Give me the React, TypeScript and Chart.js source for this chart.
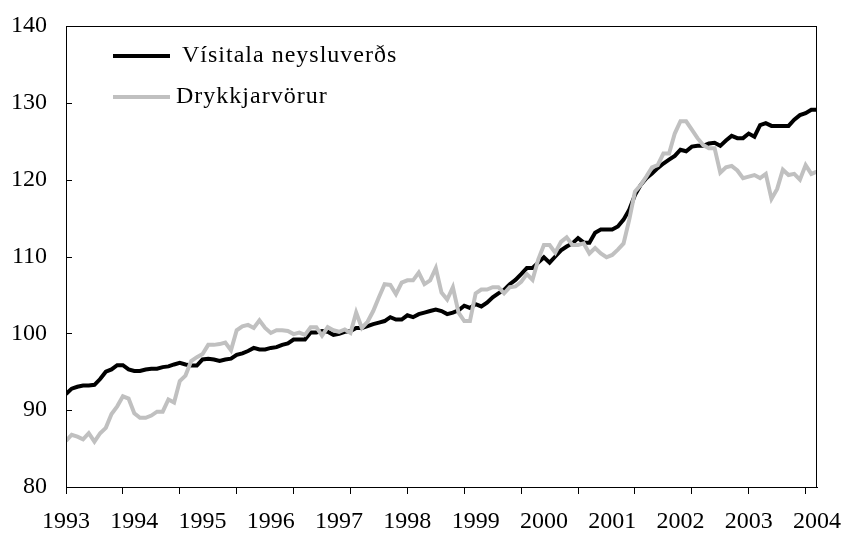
import React, { useEffect, useRef } from "react";
import { Chart, registerables } from "chart.js";

Chart.register(...registerables);

const yearLabels = ["1993", "1994", "1995", "1996", "1997", "1998", "1999", "2000", "2001", "2002", "2003", "2004"];
const seriesNames = ["Vísitala neysluverðs", "Drykkjarvörur"];

// monthly values, Jan 1993 .. Jan 2004
const cpi = [
  92.1, 92.8, 93.05, 93.2, 93.2, 93.3, 94.05, 95.0, 95.3, 95.85, 95.85, 95.3,
  95.1, 95.1, 95.3, 95.4, 95.4, 95.6, 95.7, 95.95, 96.15, 95.95, 95.8, 95.8,
  96.6, 96.7, 96.6, 96.4, 96.6, 96.7, 97.2, 97.4, 97.7, 98.1, 97.9, 97.9,
  98.1, 98.2, 98.5, 98.7, 99.2, 99.2, 99.2, 100.1, 100.1, 100.3, 100.2, 99.8,
  99.95, 100.2, 100.3, 100.7, 100.7, 100.95, 101.2, 101.4, 101.6, 102.1, 101.8, 101.8,
  102.35, 102.1, 102.5, 102.7, 102.9, 103.1, 102.9, 102.5, 102.7, 103.0, 103.6, 103.3,
  103.8, 103.5, 104.0, 104.7, 105.2, 105.65, 106.4, 106.95, 107.7, 108.5, 108.5, 109.2,
  109.9, 109.2, 110.0, 110.8, 111.3, 111.7, 112.4, 111.8, 111.8, 113.1, 113.5, 113.5,
  113.5, 113.9, 114.8, 116.1, 118.0, 119.3, 120.2, 120.8, 121.5, 122.1, 122.6, 123.1,
  123.9, 123.7, 124.3, 124.4, 124.4, 124.7, 124.8, 124.4, 125.1, 125.7, 125.4, 125.4,
  126.0, 125.6, 127.1, 127.35, 127.0, 127.0, 127.0, 127.0, 127.8, 128.4, 128.65, 129.1,
  129.1,
];

const drinks = [
  86.0, 86.8, 86.55, 86.2, 87.0, 85.9, 87.0, 87.7, 89.5, 90.5, 91.8, 91.5,
  89.6, 89.0, 89.0, 89.3, 89.8, 89.8, 91.4, 91.0, 93.8, 94.5, 96.4, 96.9,
  97.3, 98.5, 98.5, 98.6, 98.8, 97.8, 100.4, 100.9, 101.1, 100.7, 101.7, 100.7,
  100.05, 100.4, 100.4, 100.3, 99.9, 100.1, 99.8, 100.8, 100.8, 99.7, 100.8, 100.4,
  100.2, 100.5, 100.05, 102.7, 100.7, 101.5, 102.9, 104.7, 106.4, 106.3, 105.1, 106.6,
  106.9, 106.9, 107.9, 106.4, 106.9, 108.5, 105.3, 104.4, 106.0, 102.7, 101.6, 101.6,
  105.2, 105.7, 105.7, 106.0, 106.0, 105.2, 106.0, 106.1, 106.7, 107.7, 106.95, 109.6,
  111.5, 111.5, 110.5, 111.9, 112.5, 111.5, 111.5, 111.7, 110.4, 111.1, 110.4, 109.9,
  110.2, 110.9, 111.7, 114.8, 118.45, 119.3, 120.4, 121.6, 121.9, 123.4, 123.4, 126.0,
  127.6, 127.6, 126.5, 125.4, 124.5, 124.1, 124.1, 120.9, 121.6, 121.8, 121.2, 120.2,
  120.4, 120.6, 120.2, 120.75, 117.5, 118.8, 121.3, 120.6, 120.75, 120.0, 121.9, 120.75,
  121.05,
];

const FONT = '"Liberation Serif"';

const framePlugin = {
  id: "frame",
  afterDraw(chart: any) {
    const { ctx, chartArea: a, scales } = chart;
    ctx.save();
    ctx.strokeStyle = "#000";
    ctx.lineWidth = 1;
    ctx.strokeRect(a.left + 0.5, a.top + 0.5, a.right - a.left - 1, a.bottom - a.top);
    const y = scales.y;
    ctx.beginPath();
    for (const t of y.ticks) {
      const py = Math.round(y.getPixelForValue(t.value)) + 0.5;
      ctx.moveTo(a.left, py);
      ctx.lineTo(a.left + 6, py);
    }
    ctx.stroke();
    ctx.restore();
  },
};

const legendPlugin = {
  id: "insideLegend",
  afterDraw(chart: any) {
    const { ctx, chartArea: a } = chart;
    const rows = [
      { dy: 30, tx: 116 },
      { dy: 71, tx: 110 },
    ];
    ctx.save();
    chart.data.datasets.forEach((ds: any, i: number) => {
      const r = rows[i];
      const yy = a.top + r.dy;
      ctx.strokeStyle = ds.borderColor;
      ctx.lineWidth = 4;
      ctx.beginPath();
      ctx.moveTo(a.left + 47, yy);
      ctx.lineTo(a.left + 104, yy);
      ctx.stroke();
      ctx.fillStyle = "#000";
      ctx.font = `24px ${FONT}`;
      ctx.textBaseline = "middle";
      ctx.textAlign = "left";
      try {
        (ctx as any).letterSpacing = "1px";
      } catch (e) {}
      ctx.fillText(ds.label, a.left + r.tx, yy);
    });
    ctx.restore();
  },
};

export default function App() {
  const ref = useRef<HTMLCanvasElement | null>(null);

  useEffect(() => {
    document.body.style.margin = "0";
    let chart: any = null;
    let cancelled = false;
    const build = () => {
      if (cancelled) return;
      const canvas = ref.current!;
      const toXY = (arr: number[]) => arr.map((v, i) => ({ x: i, y: v }));
      const lastIndex = cpi.length - 1;
      chart = new Chart(canvas, {
        type: "line",
        data: {
          datasets: [
            {
              label: seriesNames[0],
              data: toXY(cpi),
              borderColor: "#000000",
              borderWidth: 4,
              pointRadius: 0,
              tension: 0,
              order: 2,
            },
            {
              label: seriesNames[1],
              data: toXY(drinks),
              borderColor: "#c0c0c0",
              borderWidth: 4,
              pointRadius: 0,
              tension: 0,
              order: 1,
            },
          ],
        },
        options: {
          animation: false,
          responsive: false,
          devicePixelRatio: 1,
          layout: { padding: { left: 0, right: 26, top: 26, bottom: 0 } },
          plugins: {
            legend: { display: false },
            tooltip: { enabled: false },
          },
          scales: {
            x: {
              type: "linear",
              position: "bottom",
              weight: 0,
              min: 0,
              max: lastIndex,
              afterBuildTicks: (s: any) => {
                const t = [];
                for (let v = 0; v <= lastIndex; v += 10) t.push({ value: v });
                s.ticks = t;
              },
              afterFit: (s: any) => {
                s.height = 8;
                s.paddingLeft = 0;
                s.paddingRight = 0;
              },
              ticks: { display: false },
              grid: { display: true, drawOnChartArea: false, drawTicks: true, tickLength: 7, color: "#000", lineWidth: 1 },
              border: { display: true, color: "#000", width: 1 },
            },
            x2: {
              type: "linear",
              position: "bottom",
              weight: 1,
              min: 0,
              max: lastIndex,
              afterBuildTicks: (s: any) => {
                s.ticks = yearLabels.map((_, k) => ({ value: k * 12 }));
              },
              afterFit: (s: any) => {
                s.height = 39;
                s.paddingLeft = 0;
                s.paddingRight = 0;
              },
              ticks: {
                autoSkip: false,
                maxRotation: 0,
                padding: 12,
                color: "#000",
                font: { family: FONT, size: 24 },
                callback: (v: any) => yearLabels[Math.round(Number(v) / 12)] ?? "",
              },
              grid: { display: false, drawTicks: false },
              border: { display: false },
            },
            y: {
              type: "linear",
              min: 80,
              max: 140,
              afterFit: (s: any) => {
                s.width = 66;
                s.paddingTop = 0;
                s.paddingBottom = 0;
              },
              ticks: {
                stepSize: 10,
                padding: 19,
                color: "#000",
                font: { family: FONT, size: 24 },
              },
              grid: { display: true, drawOnChartArea: false, drawTicks: false, color: "#000" },
              border: { display: true, color: "#000", width: 1 },
            },
          },
        },
        plugins: [framePlugin, legendPlugin],
      });
    };
    const fontsApi = (document as any).fonts;
    if (fontsApi && fontsApi.load) {
      fontsApi.load('24px "Liberation Serif"').then(build, build);
    } else {
      build();
    }
    return () => {
      cancelled = true;
      if (chart) chart.destroy();
    };
  }, []);

  return (
    <div style={{ width: 843, height: 534, position: "relative", background: "#fff" }}>
      <canvas ref={ref} width={843} height={534} style={{ display: "block" }} />
    </div>
  );
}
